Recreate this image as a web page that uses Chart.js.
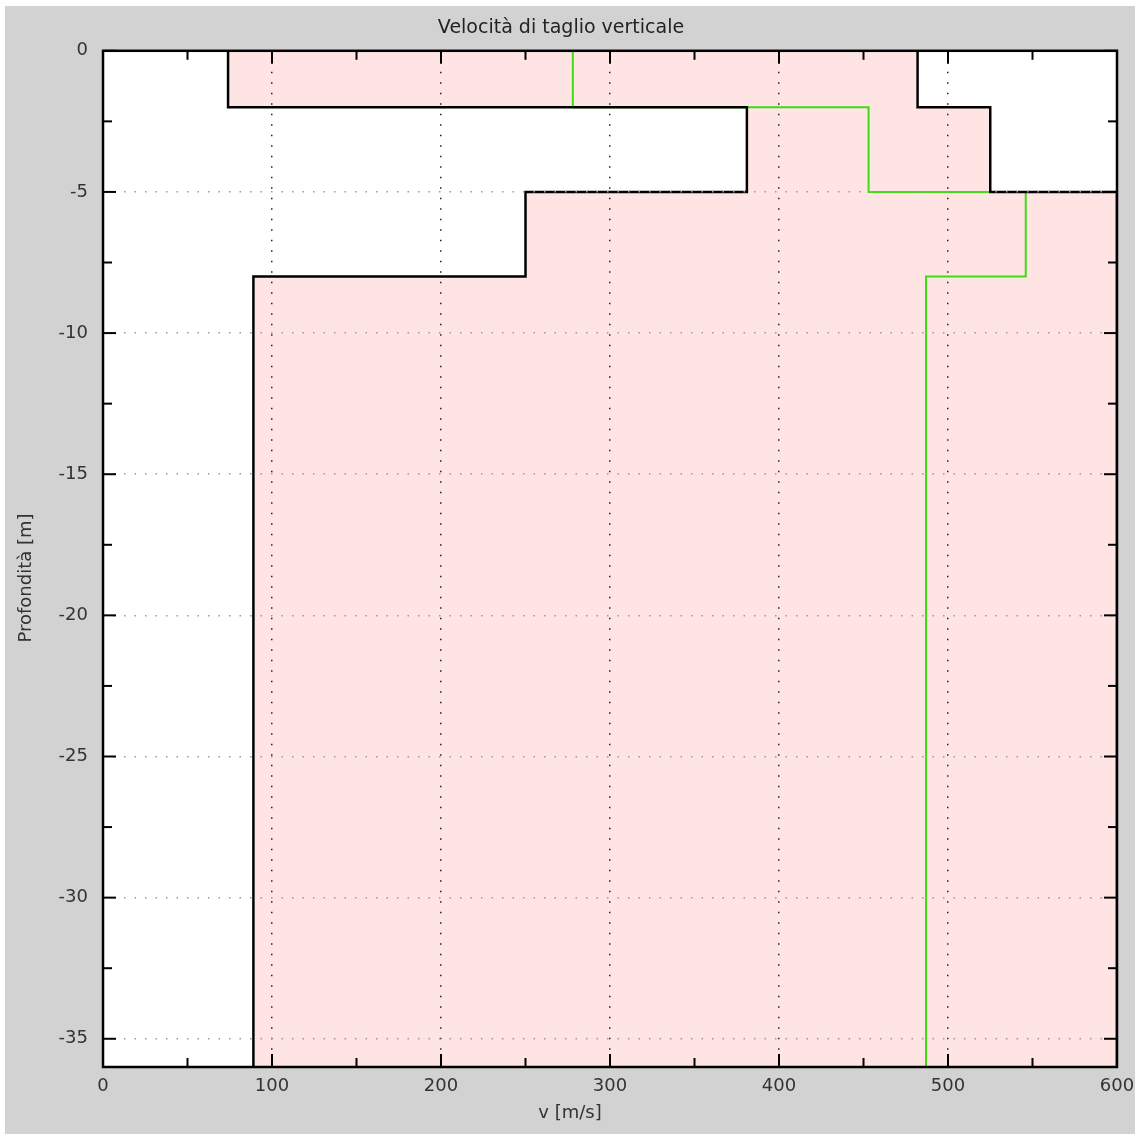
<!DOCTYPE html>
<html>
<head>
<meta charset="utf-8">
<script src="https://cdn.jsdelivr.net/npm/chart.js@4.4.0/dist/chart.umd.min.js"></script>
<style>
  body { margin: 0; background: #fff; }
  #wrap { position: absolute; left: 5px; top: 6px; width: 1130px; height: 1128px; background: #d2d2d2; }
</style>
</head>
<body>
<div id="wrap"><canvas id="myChart"></canvas></div>
<script>
// strati: profondità [m] e velocità di taglio [m/s]
let layerTop = [0, 2, 5, 8];
let layerBottom = [2, 5, 8, 36];
let vsMin = [74, 381, 250, 89];
let vsMax = [482, 525, 600, 600];
let vsMean = [278, 453, 546, 487];

let titleText = "Velocità di taglio verticale";
let xLabel = "v [m/s]";
let yLabel = "Profondità [m]";

const fontName = "'DejaVu Sans', Verdana, sans-serif";

function stepPoints(values) {
    let pts = [];
    values.forEach((v, i) => {
        pts.push({ x: v, y: -layerTop[i] });
        pts.push({ x: v, y: -layerBottom[i] });
    });
    return pts;
}

// cornice, tacche interne e titoli degli assi
const frameTicks = {
    id: 'frameTicks',
    beforeDraw(chart) {
        const { ctx, chartArea: a } = chart;
        ctx.save();
        ctx.fillStyle = '#fff';
        ctx.fillRect(a.left, a.top, a.width, a.height);
        ctx.restore();
    },
    afterDraw(chart) {
        const { ctx, chartArea: a, scales: { x, y } } = chart;
        const seg = (x1, y1, x2, y2) => {
            ctx.beginPath(); ctx.moveTo(x1, y1); ctx.lineTo(x2, y2); ctx.stroke();
        };
        ctx.save();
        ctx.strokeStyle = '#000';
        ctx.lineWidth = 2;
        for (let v = x.min; v <= x.max; v += 50) {
            const px = x.getPixelForValue(v);
            const len = v % 100 === 0 ? 13 : 9;
            seg(px, a.bottom, px, a.bottom - len);
            seg(px, a.top, px, a.top + len);
        }
        for (let d = y.max; d >= y.min; d -= 2.5) {
            const py = y.getPixelForValue(d);
            const len = d % 5 === 0 ? 13 : 9;
            seg(a.left, py, a.left + len, py);
            seg(a.right, py, a.right - len, py);
        }
        ctx.lineWidth = 2.5;
        ctx.strokeRect(a.left, a.top, a.width, a.height);

        ctx.fillStyle = '#333';
        ctx.font = '18px ' + fontName;
        ctx.textAlign = 'center';
        ctx.textBaseline = 'middle';
        ctx.fillText(xLabel, 565, 1107);
        ctx.translate(21, 572);
        ctx.rotate(-Math.PI / 2);
        ctx.fillText(yLabel, 0, 0);
        ctx.restore();
    }
};

const config = () => {
    let myChart = new Chart(document.getElementById('myChart'), {
        type: 'scatter',
        data: {
            datasets: [
                {
                    label: "Vs min",
                    data: stepPoints(vsMin),
                    showLine: true,
                    borderColor: "#000",
                    borderWidth: 2.5,
                    pointRadius: 0,
                    order: 0
                },
                {
                    label: "Vs max",
                    data: stepPoints(vsMax),
                    showLine: true,
                    borderColor: "#000",
                    borderWidth: 2.5,
                    pointRadius: 0,
                    order: 1
                },
                {
                    label: "Vs media",
                    data: stepPoints(vsMean),
                    showLine: true,
                    borderColor: "#3fdc12",
                    borderWidth: 2,
                    pointRadius: 0,
                    order: 2
                },
                {
                    label: "Intervallo",
                    data: stepPoints(vsMin).concat(stepPoints(vsMax).reverse()),
                    showLine: true,
                    borderWidth: 0,
                    borderColor: "rgba(0,0,0,0)",
                    backgroundColor: "#ffe4e4",
                    fill: 'shape',
                    pointRadius: 0,
                    order: 3
                }
            ]
        },
        options: {
            responsive: true,
            maintainAspectRatio: false,
            animation: false,
            layout: { padding: { left: 0, right: 18, top: 0, bottom: 0 } },
            plugins: {
                legend: { display: false },
                tooltip: { enabled: false },
                title: {
                    display: true,
                    text: titleText,
                    color: '#222',
                    font: { family: fontName, size: 19, weight: 'normal' },
                    padding: { top: 11, bottom: 11 }
                }
            },
            scales: {
                x: {
                    type: 'linear',
                    min: 0,
                    max: 600,
                    z: 1,
                    afterFit(scale) {
                        scale.height = 67;
                        scale.paddingLeft = 0;
                        scale.paddingRight = 0;
                    },
                    ticks: {
                        stepSize: 100,
                        color: '#333',
                        padding: 9,
                        maxRotation: 0,
                        font: { family: fontName, size: 18 }
                    },
                    grid: { color: '#222', lineWidth: 1.5, drawTicks: false, z: 1 },
                    border: { display: false, dash: [1.5, 9] }
                },
                y: {
                    type: 'linear',
                    min: -36,
                    max: 0,
                    z: 1,
                    afterFit(scale) {
                        scale.width = 98;
                        scale.paddingTop = 0;
                        scale.paddingBottom = 0;
                    },
                    ticks: {
                        stepSize: 5,
                        includeBounds: false,
                        color: '#333',
                        padding: 15,
                        font: { family: fontName, size: 18 }
                    },
                    grid: { color: '#999', lineWidth: 1.5, drawTicks: false, z: 1 },
                    border: { display: false, dash: [1.5, 9] }
                }
            }
        },
        plugins: [frameTicks]
    });
};

config();
</script>
</body>
</html>
